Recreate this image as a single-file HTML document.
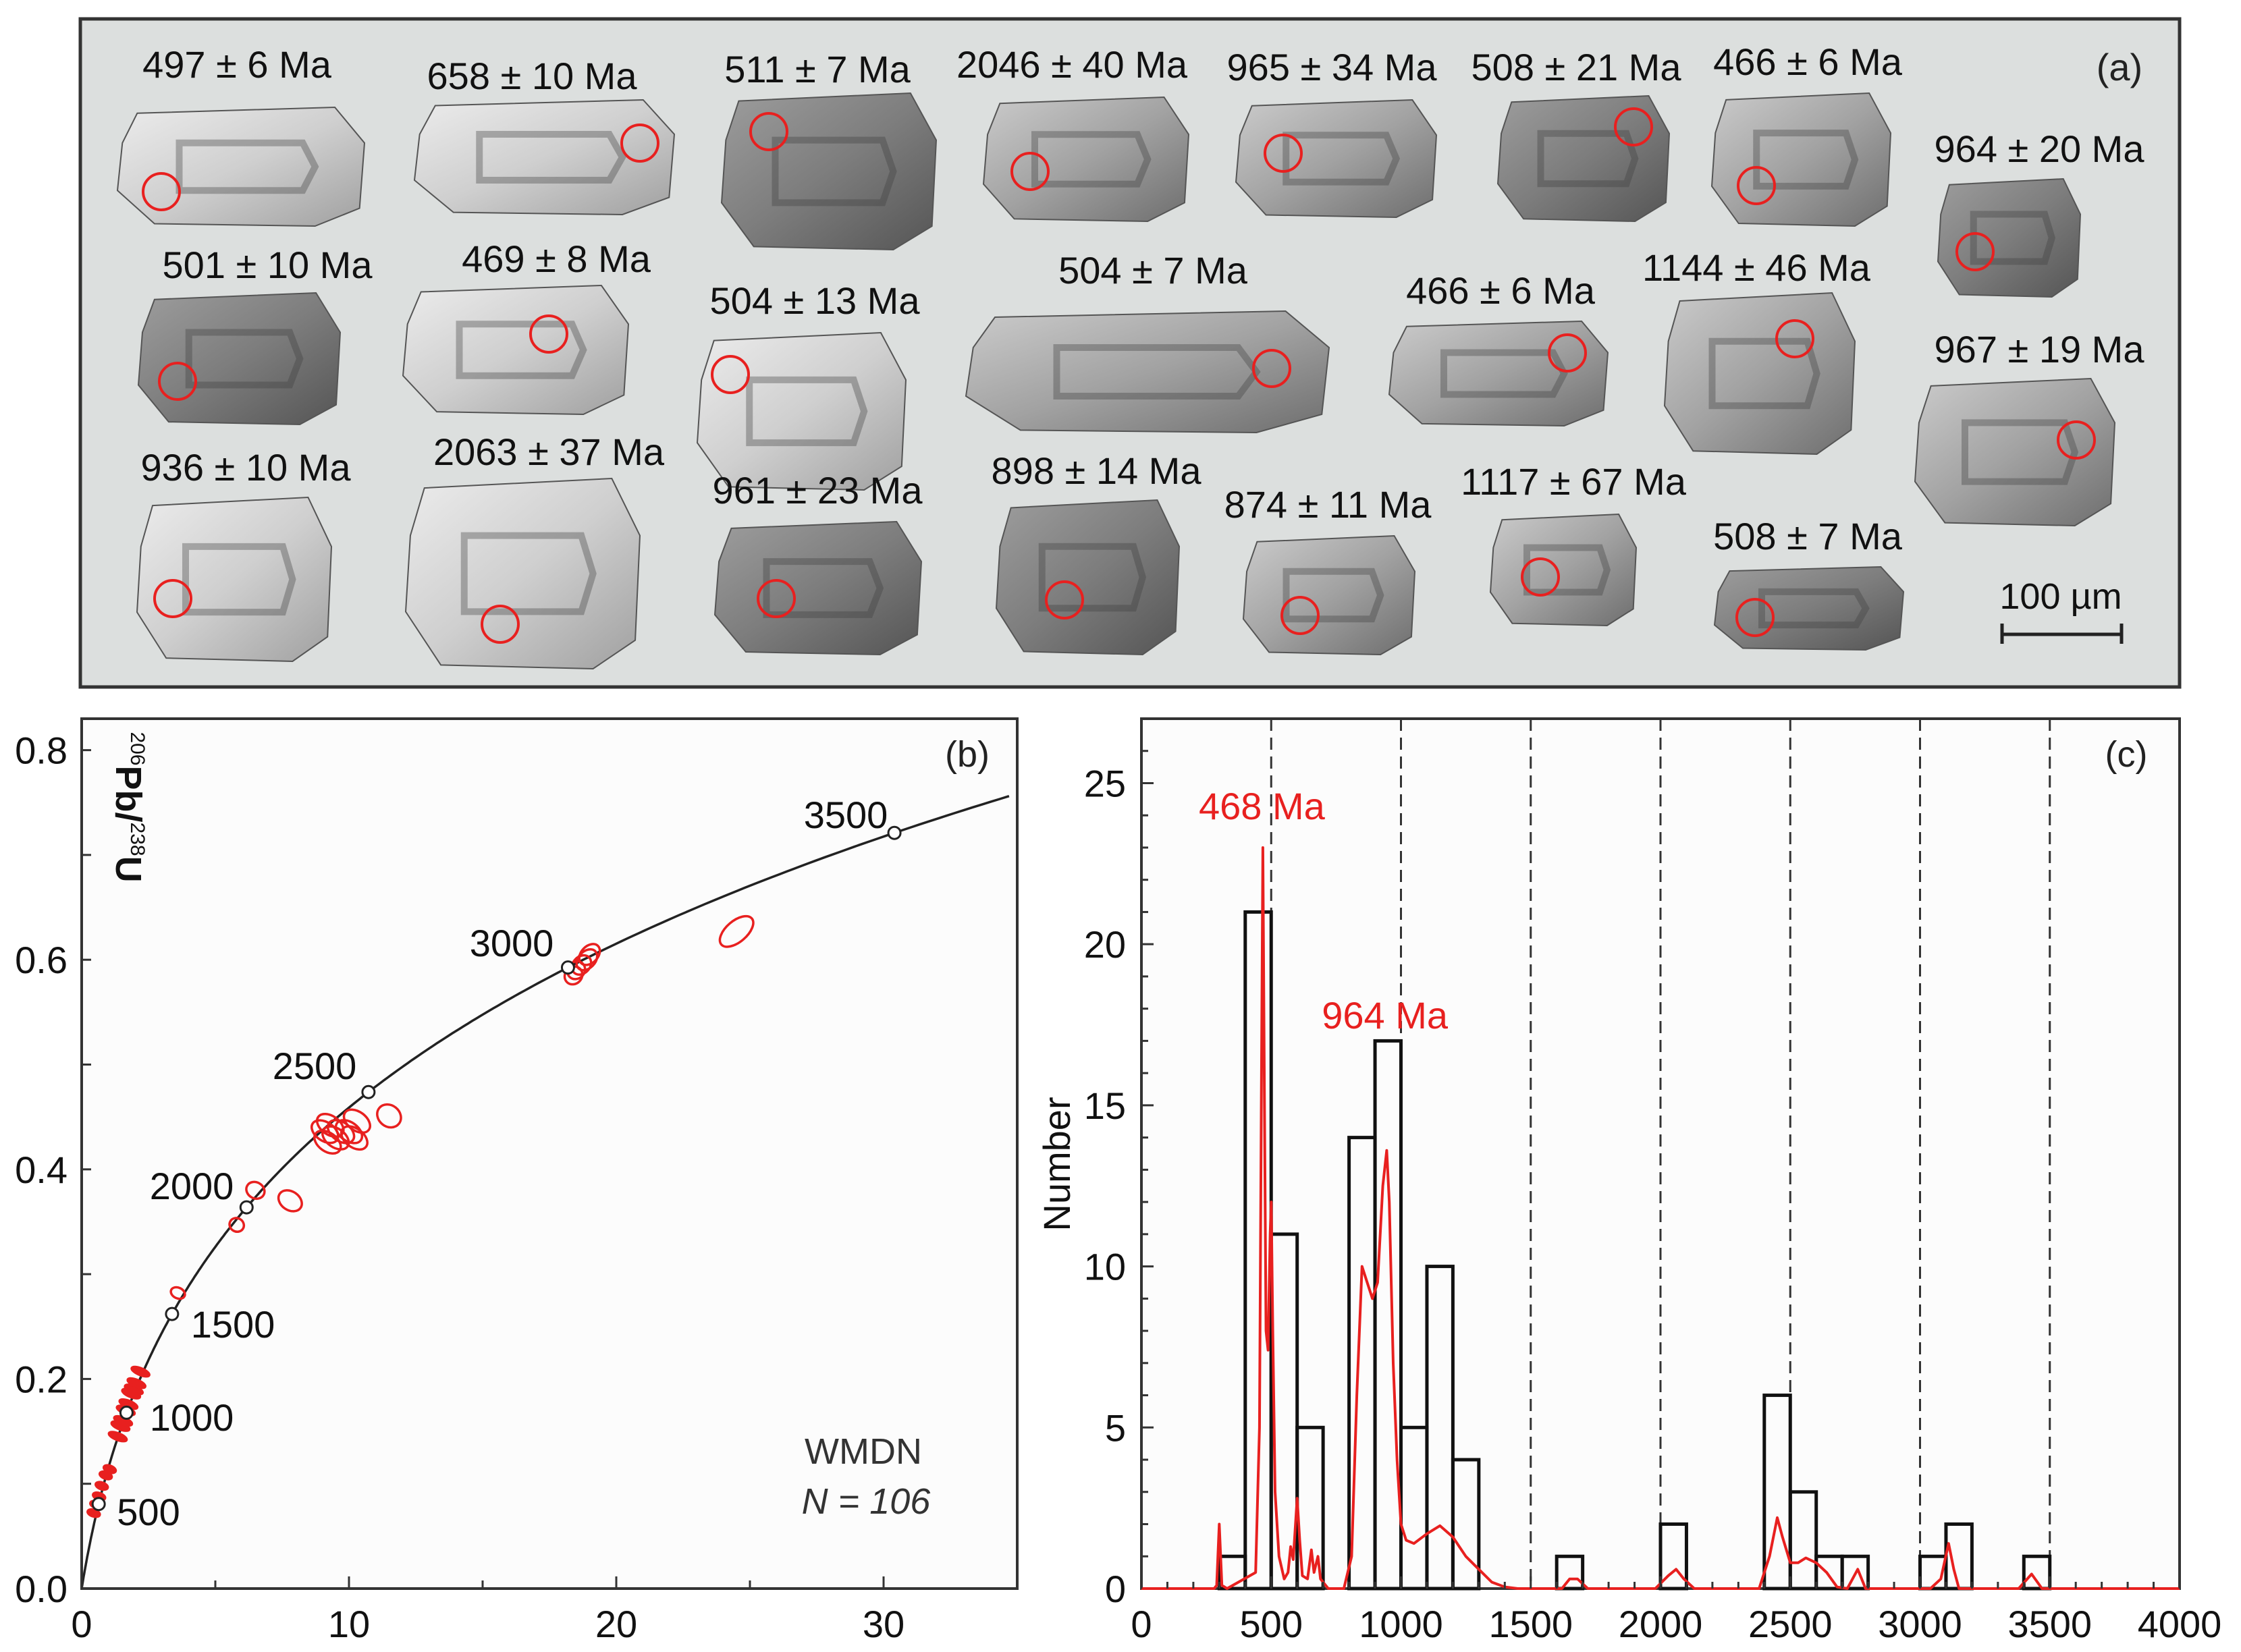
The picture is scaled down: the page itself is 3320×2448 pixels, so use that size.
<!DOCTYPE html>
<html><head><meta charset="utf-8"><style>
html,body{margin:0;padding:0;background:#fff;}
svg{display:block;font-family:"Liberation Sans",Arial,sans-serif;}
</style></head><body>
<svg id="fig" width="3320" height="2448" viewBox="0 0 3320 2448" xmlns="http://www.w3.org/2000/svg">
<defs>
<linearGradient id="gL" x1="0" y1="0" x2="1" y2="1"><stop offset="0" stop-color="#ececec"/><stop offset="0.5" stop-color="#cfcfcf"/><stop offset="1" stop-color="#a0a0a0"/></linearGradient>
<linearGradient id="gM" x1="0" y1="0" x2="1" y2="1"><stop offset="0" stop-color="#cbcbcb"/><stop offset="0.5" stop-color="#a2a2a2"/><stop offset="1" stop-color="#6e6e6e"/></linearGradient>
<linearGradient id="gD" x1="0" y1="0" x2="1" y2="1"><stop offset="0" stop-color="#9d9d9d"/><stop offset="0.5" stop-color="#7d7d7d"/><stop offset="1" stop-color="#555"/></linearGradient>
</defs>
<g id="panelA">
<rect x="119" y="28" width="3110" height="990" fill="#dcdfde" stroke="#333" stroke-width="5"/>
</g>
<g id="panelB"></g>
<g id="panelC"></g>
</svg>
<script>
const NS='http://www.w3.org/2000/svg';
function mk(parent,tag,attrs,text){const e=document.createElementNS(NS,tag);for(const k in attrs)e.setAttribute(k,attrs[k]);if(text!==undefined)e.textContent=text;parent.appendChild(e);return e;}

/* ---------- Panel A: zircon grains ---------- */
const grainLabels=["497 ± 6 Ma","658 ± 10 Ma","511 ± 7 Ma","2046 ± 40 Ma","965 ± 34 Ma","508 ± 21 Ma","466 ± 6 Ma","964 ± 20 Ma","501 ± 10 Ma","469 ± 8 Ma","504 ± 13 Ma","504 ± 7 Ma","466 ± 6 Ma","1144 ± 46 Ma","967 ± 19 Ma","936 ± 10 Ma","2063 ± 37 Ma","961 ± 23 Ma","898 ± 14 Ma","874 ± 11 Ma","1117 ± 67 Ma","508 ± 7 Ma"];
const labelPos=[[351,95],[788,112],[1211,102],[1588,95],[1973,99],[2335,99],[2678,91],[3021,220],[396,392],[824,383],[1207,445],[1708,400],[2223,430],[2602,396],[3021,517],[364,692],[813,669],[1211,726],[1624,697],[1967,747],[2331,713],[2678,794]];
const grainBox=[[174,159,540,335],[614,148,999,318],[1069,138,1387,370],[1457,144,1761,328],[1831,148,2128,322],[2219,142,2473,328],[2536,138,2801,335],[2871,265,3082,440],[205,434,504,629],[597,423,931,614],[1033,493,1342,726],[1431,461,1969,641],[2058,476,2382,631],[2466,434,2748,673],[2837,561,3133,779],[203,737,491,980],[601,709,948,991],[1059,773,1365,970],[1476,741,1747,970],[1842,794,2096,970],[2208,762,2424,927],[2540,840,2820,963]];
const grainTone=["gL","gL","gD","gM","gM","gD","gM","gD","gD","gL","gL","gM","gM","gM","gM","gL","gL","gD","gD","gM","gM","gD"];
const spotPos=[[239,284],[948,212],[1139,195],[1526,254],[1901,227],[2420,188],[2602,275],[2926,373],[263,565],[813,495],[1082,555],[1884,546],[2322,523],[2659,502],[3076,652],[256,887],[741,925],[1150,887],[1577,889],[1926,912],[2282,855],[2600,915]];
const A=document.getElementById('panelA');
grainBox.forEach((b,i)=>{
  const [x0,y0,x1,y1]=b,w=x1-x0,h=y1-y0;
  const d=`M${x0+w*0.08},${y0+h*0.05} L${x1-w*0.12},${y0} L${x1},${y0+h*0.3} L${x1-w*0.02},${y1-h*0.15} L${x1-w*0.2},${y1} L${x0+w*0.15},${y1-h*0.02} L${x0},${y1-h*0.3} L${x0+w*0.02},${y0+h*0.3} Z`;
  const g=mk(A,'path',{d:d,fill:`url(#${grainTone[i]})`,stroke:'#555','stroke-width':2});
  
  
  const z=mk(A,'path',{d:`M${x0+w*0.25},${y0+h*0.3} L${x1-w*0.25},${y0+h*0.3} L${x1-w*0.2},${y0+h*0.5} L${x1-w*0.25},${y1-h*0.3} L${x0+w*0.25},${y1-h*0.3} Z`,fill:'none',stroke:'rgba(60,60,60,0.35)','stroke-width':10});
  
  
  const c=mk(A,'circle',{cx:spotPos[i][0],cy:spotPos[i][1],r:27,fill:'none',stroke:'#e8201f','stroke-width':4});
  
  
  const t=mk(A,'text',{x:labelPos[i][0],y:labelPos[i][1]+20,'font-size':56,'text-anchor':'middle',fill:'#111'},grainLabels[i]);
  
  
});
{const t=mk(A,'text',{x:3140,y:119,'font-size':56,'text-anchor':'middle',fill:'#222'},'(a)');
const s=mk(A,'text',{x:3053,y:902,'font-size':54,'text-anchor':'middle',fill:'#111'},'100 µm');
const l=mk(A,'path',{d:'M2966,924 V954 M2966,940 H3143 M3143,924 V954',stroke:'#222','stroke-width':5,fill:'none'});}

/* ---------- Panel B: concordia ---------- */
const concAges=[500,1000,1500,2000,2500,3000,3500];
const concLabelPos=[[220,2240],[284,2100],[345,1962],[284,1757],[466,1579],[758,1397],[1253,1207]];
const ellX=[0.45,0.55,0.65,0.75,0.9,1.05,1.35,1.45,1.55,1.65,1.75,1.85,1.95,2.05,2.2,3.6,5.8,6.5,7.8,9.1,9.3,9.5,9.7,10.0,10.3,10.2,9.2,11.5,18.4,18.5,18.7,18.9,19.0,24.5];
const ellY=[0.072,0.08,0.088,0.098,0.108,0.114,0.145,0.155,0.16,0.17,0.176,0.186,0.19,0.196,0.207,0.282,0.347,0.38,0.37,0.436,0.442,0.43,0.436,0.436,0.446,0.43,0.426,0.451,0.585,0.59,0.595,0.6,0.605,0.627];
const ellSx=[0.08,0.08,0.08,0.08,0.08,0.08,0.1,0.1,0.1,0.1,0.1,0.1,0.1,0.1,0.1,0.2,0.25,0.3,0.35,0.35,0.35,0.35,0.35,0.35,0.35,0.35,0.35,0.4,0.35,0.35,0.4,0.45,0.45,0.75];
const ellSy=[0.006,0.006,0.006,0.006,0.006,0.006,0.009,0.009,0.009,0.009,0.009,0.009,0.009,0.009,0.009,0.007,0.007,0.009,0.012,0.014,0.014,0.014,0.014,0.014,0.014,0.014,0.014,0.012,0.008,0.008,0.008,0.008,0.008,0.01];
const bXticks=[0,10,20,30];
const bYticks=[0.0,0.2,0.4,0.6,0.8];
const bL=121,bR=1507,bT=1065,bB=2354,bXmax=35,bYmax=0.83;
const bx=v=>bL+v/bXmax*(bR-bL), by=v=>bB-v/bYmax*(bB-bT);
const l238=1.55125e-10,l235=9.8485e-10;
const cx=t=>Math.exp(l235*t*1e6)-1, cy=t=>Math.exp(l238*t*1e6)-1;
const B=document.getElementById('panelB');
{const r=mk(B,'rect',{x:bL,y:bT,width:bR-bL,height:bB-bT,fill:'#fcfcfc',stroke:'#333','stroke-width':4});}
{let d='';for(let t=0;t<=3800;t+=10){const X=cx(t);if(X>bXmax)break;d+=(t?'L':'M')+bx(X).toFixed(1)+','+by(cy(t)).toFixed(1);}
const p=mk(B,'path',{d:d,fill:'none',stroke:'#222','stroke-width':3.5});}
ellX.forEach((x,i)=>{
  const px=bx(x),py=by(ellY[i]);
  const rx=ellSx[i]/bXmax*(bR-bL), ry=ellSy[i]/bYmax*(bB-bT);
  const ang=-Math.atan2(ellY[i]/bYmax*(bB-bT),x/bXmax*(bR-bL))*180/Math.PI*0.9;
  const e=mk(B,'ellipse',{cx:px,cy:py,rx:Math.max(rx,5),ry:Math.max(ry,4),transform:`rotate(${ang.toFixed(1)} ${px} ${py})`,fill:i<15?'#e8201f':'none',stroke:'#e8201f','stroke-width':3.5});
  
  
});
concAges.forEach((a,i)=>{
  const c=mk(B,'circle',{cx:bx(cx(a)),cy:by(cy(a)),r:9,fill:'#fff',stroke:'#222','stroke-width':3});
  
  
  const t=mk(B,'text',{x:concLabelPos[i][0],y:concLabelPos[i][1]+20,'font-size':56,'text-anchor':'middle',fill:'#111'},String(a));
  
  
});
for(let v=0;v<=35;v+=5){const tk=mk(B,'line',{x1:bx(v),x2:bx(v),y1:bB,y2:bB-(v%10?12:18),stroke:'#333','stroke-width':3});}
bXticks.forEach(v=>{const t=mk(B,'text',{x:bx(v),y:2426,'font-size':56,'text-anchor':'middle',fill:'#111'},String(v));});
bYticks.forEach(v=>{const t=mk(B,'text',{x:100,y:by(v)+20,'font-size':56,'text-anchor':'end',fill:'#111'},v.toFixed(1));});
for(let v=0.1;v<0.8;v+=0.1){const tk=mk(B,'line',{x1:bL,x2:bL+14,y1:by(v),y2:by(v),stroke:'#333','stroke-width':3});}
{const t=mk(B,'text',{x:0,y:0,'font-size':54,'font-weight':'bold',fill:'#111',transform:'translate(172,1196) rotate(90)','text-anchor':'middle'});

mk(t,'tspan',{'font-size':30,dy:-22,'font-weight':'normal'},'206');mk(t,'tspan',{dy:22},'Pb/');mk(t,'tspan',{'font-size':30,dy:-22,'font-weight':'normal'},'238');mk(t,'tspan',{dy:22},'U');
const pb=mk(B,'text',{x:1433,y:1136,'font-size':54,'text-anchor':'middle',fill:'#222'},'(b)');
const w=mk(B,'text',{x:1279,y:2169,'font-size':54,'text-anchor':'middle',fill:'#333'},'WMDN');
const n=mk(B,'text',{x:1283,y:2243,'font-size':54,'text-anchor':'middle','font-style':'italic',fill:'#333'},'N = 106');}

/* ---------- Panel C: histogram + KDE ---------- */
const binStart=[300,400,500,600,800,900,1000,1100,1200,1600,2000,2400,2500,2600,2700,3000,3100,3400];
const binCount=[1,21,11,5,14,17,5,10,4,1,2,6,3,1,1,1,2,1];
const kdeAge=[0,280,290,300,310,330,440,455,462,468,474,480,488,496,500,506,515,530,550,565,575,585,600,610,620,640,655,665,680,690,720,780,810,830,850,870,890,910,930,945,955,970,985,1000,1020,1050,1100,1150,1200,1250,1300,1350,1400,1450,1620,1650,1680,1720,1980,2030,2060,2090,2130,2380,2420,2450,2470,2500,2530,2560,2600,2640,2680,2720,2760,2790,3040,3080,3110,3130,3150,3380,3430,3470,4000];
const kdeVal=[0,0,0.1,2,0.1,0,0.5,5,15,23,15,8,7.4,11,12,8,3,1,0.3,0.5,1.3,0.9,2.8,1.5,0.4,0.3,1.2,0.5,1,0.3,0,0,1,6,10,9.5,9,9.5,12.5,13.6,12,7,4,2,1.5,1.4,1.7,1.95,1.6,1,0.6,0.2,0.05,0,0,0.3,0.3,0,0,0.4,0.6,0.3,0,0,1,2.2,1.6,0.8,0.8,0.95,0.8,0.5,0.05,0,0.6,0,0,0.3,1.4,0.6,0,0,0.45,0,0];
const cXticks=[0,500,1000,1500,2000,2500,3000,3500,4000];
const cYticks=[0,5,10,15,20,25];
const peakLabels=["468 Ma","964 Ma"];
const peakLabelAge=[490,964];
const peakLabelVal=[24.3,17.8];
const cL=1691,cR=3229,cT=1065,cB=2354,cXmax=4000,cYmax=27;
const X=v=>cL+v/cXmax*(cR-cL), Y=v=>cB-v/cYmax*(cB-cT);
const C=document.getElementById('panelC');
{const r=mk(C,'rect',{x:cL,y:cT,width:cR-cL,height:cB-cT,fill:'#fcfcfc',stroke:'#333','stroke-width':4});}
for(let v=500;v<4000;v+=500){const l=mk(C,'line',{x1:X(v),x2:X(v),y1:cT,y2:cB,stroke:'#333','stroke-width':3,'stroke-dasharray':'18 10'});}
binStart.forEach((s,i)=>{
  const r=mk(C,'rect',{x:X(s),y:Y(binCount[i]),width:X(s+100)-X(s),height:Y(0)-Y(binCount[i]),fill:'none',stroke:'#111','stroke-width':5});
  
  
});
{let d='';kdeAge.forEach((a,i)=>{d+=(i?'L':'M')+X(a).toFixed(1)+','+Y(kdeVal[i]).toFixed(1);});
const p=mk(C,'path',{d:d,fill:'none',stroke:'#e8201f','stroke-width':4,'stroke-linejoin':'round'});}
peakLabels.forEach((s,i)=>{const t=mk(C,'text',{x:X(peakLabelAge[i])-10,y:Y(peakLabelVal[i])+20,'font-size':56,'text-anchor':'middle',fill:'#e8201f'},s);});
for(let v=0;v<=4000;v+=100){const tk=mk(C,'line',{x1:X(v),x2:X(v),y1:cB,y2:cB-(v%500?10:18),stroke:'#333','stroke-width':3});}
for(let v=1;v<27;v++){const tk=mk(C,'line',{x1:cL,x2:cL+(v%5?10:18),y1:Y(v),y2:Y(v),stroke:'#333','stroke-width':3});}
cXticks.forEach(v=>{const t=mk(C,'text',{x:X(v),y:2426,'font-size':56,'text-anchor':'middle',fill:'#111'},String(v));});
cYticks.forEach(v=>{const t=mk(C,'text',{x:1668,y:Y(v)+20,'font-size':56,'text-anchor':'end',fill:'#111'},String(v));});
{const t=mk(C,'text',{x:0,y:0,'font-size':56,'text-anchor':'middle',fill:'#111',transform:'translate(1585,1725) rotate(-90)'},'Number');
const pc=mk(C,'text',{x:3150,y:1136,'font-size':54,'text-anchor':'middle',fill:'#222'},'(c)');}
</script>
</body></html>
